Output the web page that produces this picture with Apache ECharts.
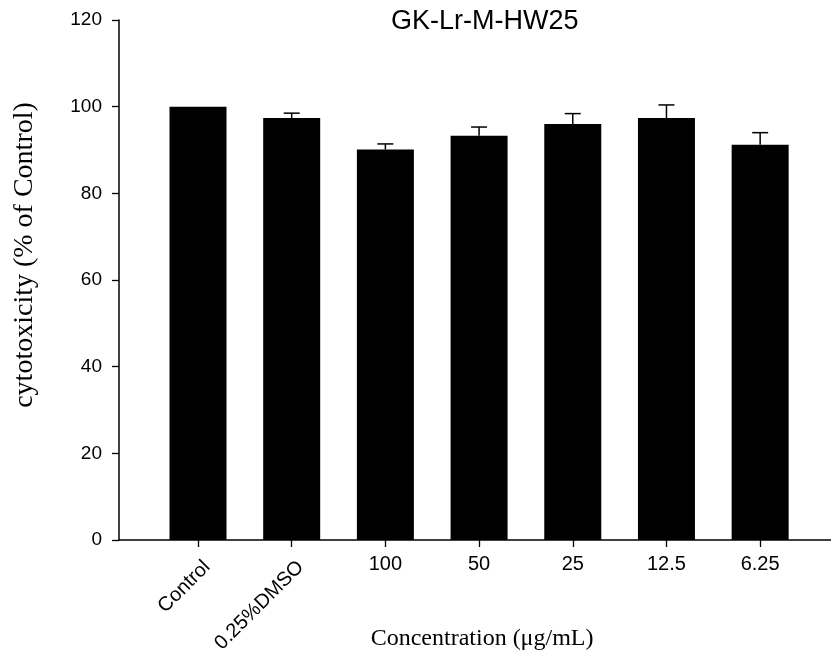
<!DOCTYPE html>
<html>
<head>
<meta charset="utf-8">
<script src="https://cdn.jsdelivr.net/npm/echarts@6/dist/echarts.min.js"></script>
<style>
  html, body { margin: 0; padding: 0; background: #fff; }
  #chart { width: 831px; height: 658px; }
</style>
</head>
<body>
<div id="chart"></div>
<script>
// Treatment groups along the x axis
const categories = ['Control', '0.25%DMSO', '100', '50', '25', '12.5', '6.25'];
// Mean cytotoxicity (% of control) per group
const means = [100, 97.4, 90.1, 93.3, 96.0, 97.4, 91.2];
// Upper error (SD) per group; the control has none
const errors = [0, 1.1, 1.3, 2.0, 2.4, 3.0, 2.8];
// Value axis range
const yMin = 0;
const yMax = 120;
const yStep = 20;

const sans = "'Liberation Sans', Arial, Helvetica, sans-serif";
const serif = "'Liberation Serif', 'Times New Roman', serif";

const errorData = categories
  .map((c, i) => [i, means[i], means[i] + errors[i]])
  .filter((d, i) => errors[i] > 0);

const chart = echarts.init(document.getElementById('chart'), null, { renderer: 'canvas' });

chart.setOption({
  animation: false,
  backgroundColor: '#ffffff',
  title: {
    text: 'GK-Lr-M-HW25',
    left: 386,
    top: 3,
    textStyle: { fontFamily: sans, fontSize: 27, fontWeight: 'normal', color: '#000' }
  },
  grid: [
    // bars and category labels
    { left: 151.15, right: 24, top: 20, bottom: 118 },
    // axis frame (y axis + full-width baseline)
    { left: 119, right: 0, top: 20, bottom: 118 },
    // slanted labels for the first two groups
    { left: 160.15, right: 15, top: 20, bottom: 118 }
  ],
  xAxis: [
    {
      gridIndex: 0,
      type: 'category',
      position: 'bottom',
      data: categories,
      axisLine: { show: false },
      axisTick: {
        show: true, alignWithLabel: true, interval: 0, length: 7,
        lineStyle: { color: '#000', width: 1.3 }
      },
      axisLabel: {
        interval: (i) => i >= 2,
        margin: 14,
        fontFamily: sans, fontSize: 20, color: '#000'
      },
      splitLine: { show: false },
      name: 'Concentration (μg/mL)',
      nameLocation: 'middle',
      nameGap: 87,
      nameTextStyle: { fontFamily: serif, fontSize: 24, color: '#000', padding: [0, 0, 0, 6] }
    },
    {
      gridIndex: 1,
      type: 'value',
      position: 'bottom',
      min: 0, max: 1,
      axisLine: { show: true, lineStyle: { color: '#000', width: 1.5 } },
      axisTick: { show: false },
      axisLabel: { show: false },
      splitLine: { show: false }
    },
    {
      gridIndex: 2,
      type: 'category',
      position: 'bottom',
      data: categories,
      axisLine: { show: false },
      axisTick: { show: false },
      axisLabel: {
        interval: (i) => i < 2,
        rotate: 45,
        margin: 24,
        fontFamily: sans, fontSize: 20, color: '#000'
      },
      splitLine: { show: false }
    }
  ],
  yAxis: [
    { gridIndex: 0, type: 'value', min: yMin, max: yMax, interval: yStep, show: false },
    {
      gridIndex: 1,
      type: 'value',
      min: yMin, max: yMax, interval: yStep,
      axisLine: { show: true, lineStyle: { color: '#000', width: 1.5 } },
      axisTick: { show: true, length: 7, lineStyle: { color: '#000', width: 1.3 } },
      axisLabel: { margin: 17, fontFamily: sans, fontSize: 19, color: '#000' },
      splitLine: { show: false },
      name: 'cytotoxicity (% of Control)',
      nameLocation: 'middle',
      nameRotate: 90,
      nameGap: 80,
      nameTextStyle: { fontFamily: serif, fontSize: 28, color: '#000', padding: [0, 0, 0, 50] }
    },
    { gridIndex: 2, type: 'value', min: yMin, max: yMax, show: false }
  ],
  series: [
    {
      type: 'bar',
      xAxisIndex: 0,
      yAxisIndex: 0,
      data: means,
      barWidth: 57,
      itemStyle: { color: '#000' },
      silent: true
    },
    {
      type: 'custom',
      xAxisIndex: 0,
      yAxisIndex: 0,
      data: errorData,
      encode: { x: 0, y: [1, 2] },
      silent: true,
      z: 3,
      renderItem: function (params, api) {
        const idx = api.value(0);
        const base = api.coord([idx, api.value(1)]);
        const top = api.coord([idx, api.value(2)]);
        const half = 8;
        const style = { stroke: '#000', lineWidth: 1.5 };
        return {
          type: 'group',
          children: [
            { type: 'line', shape: { x1: base[0], y1: base[1], x2: top[0], y2: top[1] }, style: style },
            { type: 'line', shape: { x1: top[0] - half, y1: top[1], x2: top[0] + half, y2: top[1] }, style: style }
          ]
        };
      }
    }
  ]
});
</script>
</body>
</html>
